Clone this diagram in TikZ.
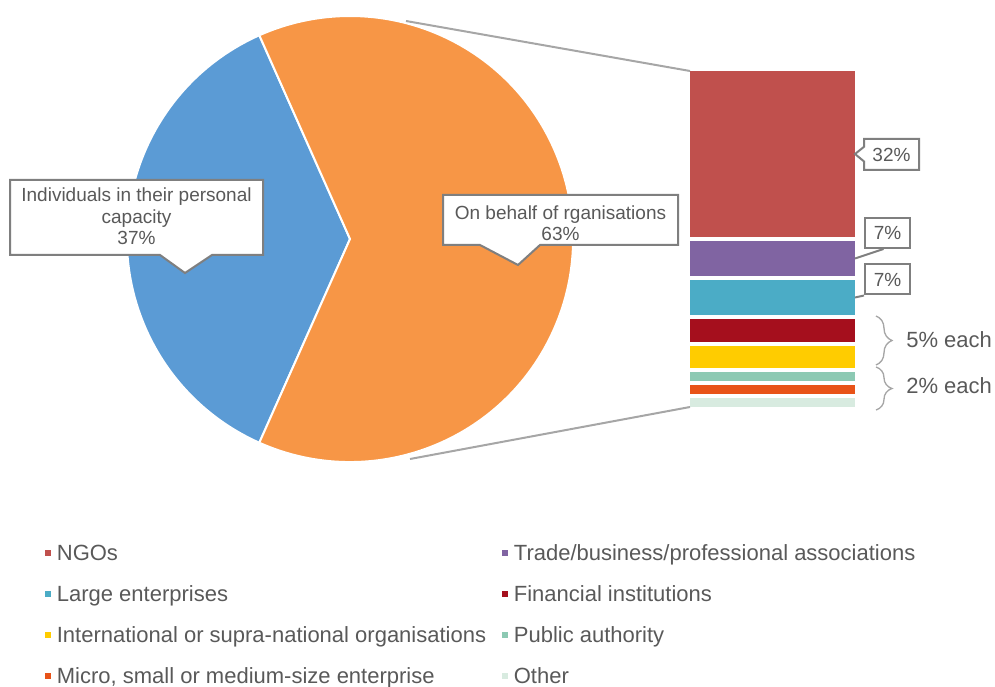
\documentclass[tikz,border=0pt]{standalone}
\usepackage{fontspec}
\setmainfont{Liberation Sans}
\usetikzlibrary{positioning,shapes.callouts,decorations.pathreplacing}
\definecolor{pieBlue}{HTML}{5B9BD5}
\definecolor{pieOrange}{HTML}{F79646}
\definecolor{ngoRed}{HTML}{C0504D}
\definecolor{tradePurple}{HTML}{8064A2}
\definecolor{largeTeal}{HTML}{4BACC6}
\definecolor{finRed}{HTML}{A50F1D}
\definecolor{intYellow}{HTML}{FFCC00}
\definecolor{pubGreen}{HTML}{8CC9B3}
\definecolor{microOrange}{HTML}{E85318}
\definecolor{otherGreen}{HTML}{D8EBE0}
\definecolor{txtGray}{HTML}{595959}
\definecolor{boxGray}{HTML}{7F7F7F}
\definecolor{lineGray}{HTML}{A6A6A6}

\begin{document}
\begin{tikzpicture}[x=0.75pt, y=0.75pt,
    seg/.style={rectangle, inner sep=0, outer sep=0, minimum width=123.75pt},
    plabel/.style={align=center, text=txtGray, font=\fontsize{14.25}{16.1}\selectfont},
    callbox/.style={draw=boxGray, line width=1.5pt, fill=white},
    legmark/.style={rectangle, inner sep=0, minimum size=4.5pt},
    legtext/.style={text=txtGray, font=\fontsize{16.5}{19}\selectfont, inner sep=0, anchor=west,
        text height=11.8pt, text depth=0pt}]
                \useasboundingbox (0,0) rectangle (995,686);

                % pie
                \coordinate (c) at (350,447);
                \filldraw[fill=pieBlue, draw=white, line width=1.5pt] (c) -- ++(114:223) arc[start angle=114, end angle=246, radius=167.25pt] -- cycle;
                \filldraw[fill=pieOrange, draw=white, line width=1.5pt] (c) -- ++(-114:223) arc[start angle=-114, end angle=114, radius=167.25pt] -- cycle;
                \coordinate (ptop) at (406,665);
                \coordinate (pbot) at (410,227);

                % bar of the organisations
                \node[seg, fill=ngoRed, minimum height=124.5pt] (ngo) at (772.5,532) {};
                \node[seg, fill=tradePurple, minimum height=26.25pt, below=3pt of ngo] (trade) {};
                \node[seg, fill=largeTeal, minimum height=26.25pt, below=3pt of trade] (large) {};
                \node[seg, fill=finRed, minimum height=17.25pt, below=3pt of large] (fin) {};
                \node[seg, fill=intYellow, minimum height=16.5pt, below=3pt of fin] (intl) {};
                \node[seg, fill=pubGreen, minimum height=6.75pt, below=3pt of intl] (pub) {};
                \node[seg, fill=microOrange, minimum height=6.75pt, below=3pt of pub] (micro) {};
                \node[seg, fill=otherGreen, minimum height=6.75pt, below=3pt of micro] (other) {};

                \draw[lineGray, line width=1.5pt] (ptop) -- (ngo.north west);
                \draw[lineGray, line width=1.5pt] (pbot) -- (other.south west);

                % pie labels
                \filldraw[callbox] (10,506) -- (263,506) -- (263,431) -- (212,431) -- (185,413) -- (160,431) -- (10,431) -- cycle;
                \node[plabel] (indiv) at (136.5,469.5) {Individuals in their personal\\capacity\\37\%};
                \filldraw[callbox] (443,491) -- (678,491) -- (678,441) -- (540,441) -- (518,421) -- (480,441) -- (443,441) -- cycle;
                \node[plabel] (orgs) at (560.5,463) {On behalf of rganisations\\63\%};

                % bar labels
                \node[rectangle callout, callbox, plabel, inner sep=0, minimum width=41.25pt, minimum height=23.25pt,
                    callout absolute pointer={(ngo.east)}, callout pointer width=11pt] (l32) at (891.5,531.5) {32\%};
                \node[callbox, plabel, inner sep=0, minimum width=33.75pt, minimum height=22.5pt] (l7a) at (887.5,453) {7\%};
                \node[callbox, plabel, inner sep=0, minimum width=33.75pt, minimum height=22.5pt] (l7b) at (887.5,406.5) {7\%};
                \draw[boxGray, line width=1.5pt] (trade.east) -- ([xshift=-3pt]l7a.south);
                \draw[boxGray, line width=1.5pt] (large.east) -- (l7b.south west);

                % braces
                \coordinate (b1t) at (876,370);
                \coordinate (b1b) at (876,321);
                \coordinate (b2t) at (876,319);
                \coordinate (b2b) at (876,276);
                \draw[lineGray, line width=1pt, decorate, decoration={brace, amplitude=12pt}] (b1t) -- (b1b);
                \draw[lineGray, line width=1pt, decorate, decoration={brace, amplitude=12pt}] (b2t) -- (b2b);
                \node[legtext] (each5) at (906,346) {5\% each};
                \node[legtext] (each2) at (906,300) {2\% each};

                % legend
                \node[legmark, fill=ngoRed] (mngo) at (48,133) {};
                \node[legtext, right=4pt of mngo] (tngo) {NGOs};
                \node[legmark, fill=tradePurple] (mtrade) at (505,133) {};
                \node[legtext, right=4pt of mtrade] (ttrade) {Trade/business/professional associations};
                \node[legmark, fill=largeTeal] (mlarge) at (48,92) {};
                \node[legtext, right=4pt of mlarge] (tlarge) {Large enterprises};
                \node[legmark, fill=finRed] (mfin) at (505,92) {};
                \node[legtext, right=4pt of mfin] (tfin) {Financial institutions};
                \node[legmark, fill=intYellow] (mintl) at (48,51) {};
                \node[legtext, right=4pt of mintl] (tintl) {International or supra-national organisations};
                \node[legmark, fill=pubGreen] (mpub) at (505,51) {};
                \node[legtext, right=4pt of mpub] (tpub) {Public authority};
                \node[legmark, fill=microOrange] (mmicro) at (48,10) {};
                \node[legtext, right=4pt of mmicro] (tmicro) {Micro, small or medium-size enterprise};
                \node[legmark, fill=otherGreen] (mother) at (505,10) {};
                \node[legtext, right=4pt of mother] (tother) {Other};
            \end{tikzpicture}
\end{document}
